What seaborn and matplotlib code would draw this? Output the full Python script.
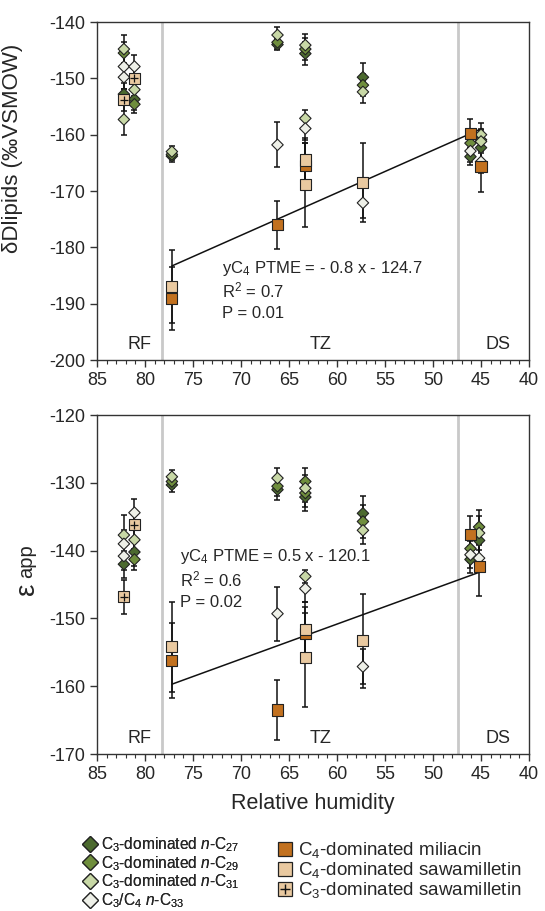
import numpy as np
import pandas as pd
import matplotlib
matplotlib.use("Agg")
import matplotlib.pyplot as plt
from matplotlib.lines import Line2D
from matplotlib.ticker import MultipleLocator
import seaborn as sns

# site relative humidity (x positions)
# --- delta D lipids (top panel) ---
c27_dd_x = [82.2, 81.1, 77.2, 66.2, 63.3, 57.3, 46.1, 45.0]
c27_dd = [-152.8, -153.7, -163.8, -144.0, -145.6, -149.8, -163.9, -162.3]
c27_dd_err = [2.0, 2.0, 1.0, 1.0, 2.0, 2.5, 1.5, 2.0]

c29_dd_x = [82.2, 81.1, 77.2, 66.2, 63.3, 57.3, 46.1, 45.0]
c29_dd = [-145.5, -154.6, -163.5, -143.6, -144.8, -151.2, -161.5, -160.9]
c29_dd_err = [2.0, 1.5, 1.0, 1.2, 2.0, 2.0, 2.0, 2.0]

c31_dd_x = [82.2, 82.2, 81.1, 77.2, 66.2, 63.3, 63.3, 57.3, 45.0, 45.0]
c31_dd = [-144.8, -157.3, -152.0, -163.0, -142.3, -144.1, -157.1, -152.4, -160.0, -161.2]
c31_dd_err = [2.5, 2.8, 2.0, 1.0, 1.5, 2.0, 1.5, 2.0, 2.0, 2.0]

c33_dd_x = [82.2, 82.2, 81.1, 66.2, 63.3, 57.3, 46.1, 45.0]
c33_dd = [-147.9, -149.8, -147.9, -161.8, -158.9, -172.1, -162.9, -164.8]
c33_dd_err = [2.0, 2.0, 2.0, 4.0, 2.0, 2.7, 2.0, 2.0]

mil_dd_x = [77.2, 66.2, 63.3, 46.1, 45.0]
mil_dd = [-189.0, -176.0, -165.4, -159.8, -165.7]
mil_dd_err = [5.6, 4.3, 4.0, 2.5, 4.5]

saw4_dd_x = [77.2, 63.3, 63.3, 57.3]
saw4_dd = [-187.0, -164.5, -168.9, -168.5]
saw4_dd_err = [6.5, 4.0, 7.4, 7.0]

saw3_dd_x = [82.2, 81.1]
saw3_dd = [-153.8, -150.0]
saw3_dd_err = [2.0, 2.0]

# --- epsilon app (bottom panel) ---
c27_ep_x = [82.2, 81.1, 77.2, 66.2, 63.3, 57.3, 46.1, 45.2]
c27_ep = [-142.0, -140.2, -130.3, -131.0, -132.1, -134.5, -141.3, -138.5]
c27_ep_err = [2.0, 2.0, 1.0, 1.5, 2.0, 2.5, 2.0, 2.5]

c29_ep_x = [81.1, 77.2, 66.2, 63.3, 63.3, 57.3, 46.1, 45.2]
c29_ep = [-141.3, -129.8, -130.5, -129.8, -131.5, -135.7, -139.7, -136.5]
c29_ep_err = [1.5, 1.0, 1.5, 2.0, 2.0, 2.5, 2.0, 2.5]

c31_ep_x = [82.2, 81.1, 77.2, 66.2, 63.3, 63.3, 57.3, 45.2]
c31_ep = [-137.7, -138.4, -129.1, -129.3, -130.8, -143.8, -137.0, -137.4]
c31_ep_err = [3.0, 2.0, 1.0, 1.5, 2.0, 1.0, 2.0, 2.5]

c33_ep_x = [82.2, 82.2, 81.1, 66.2, 63.3, 57.3, 46.1, 45.2]
c33_ep = [-139.0, -140.8, -134.4, -149.3, -145.6, -157.1, -140.6, -141.1]
c33_ep_err = [2.0, 2.0, 2.0, 4.0, 2.0, 2.6, 2.0, 2.0]

mil_ep_x = [77.2, 66.2, 63.3, 46.1, 45.2]
mil_ep = [-156.2, -163.5, -152.2, -137.6, -142.3]
mil_ep_err = [5.6, 4.4, 3.0, 2.7, 4.4]

saw4_ep_x = [77.2, 63.3, 63.3, 57.3]
saw4_ep = [-154.2, -151.6, -155.7, -153.3]
saw4_ep_err = [6.6, 4.0, 7.4, 6.9]

saw3_ep_x = [82.2, 81.1]
saw3_ep = [-146.8, -136.2]
saw3_ep_err = [2.5, 2.0]

# regression lines (yC4 PTME), end points as drawn
reg_dd_x = [77.2, 44.9]
reg_dd_y = [-183.3, -158.9]
reg_ep_x = [77.2, 45.2]
reg_ep_y = [-159.7, -143.2]

# zone boundaries and labels
zone_bounds = [78.2, 47.4]
zone_labels = ["RF", "TZ", "DS"]
zone_label_x = [80.6, 61.7, 43.2]

series_names = ["C27", "C29", "C31", "C33", "mil", "saw4", "saw3"]
series_labels = [
    r"C$_3$-dominated $n$-C$_{27}$",
    r"C$_3$-dominated $n$-C$_{29}$",
    r"C$_3$-dominated $n$-C$_{31}$",
    r"C$_3$/C$_4$ $n$-C$_{33}$",
    r"C$_4$-dominated miliacin",
    r"C$_4$-dominated sawamilletin",
    r"C$_3$-dominated sawamilletin",
]
colors = ["#4c6a2f", "#6f8e3d", "#c8d8a6", "#eef0e8", "#c2711f", "#e9c9a0", "#e9c9a0"]
markers = ["D", "D", "D", "D", "s", "s", "s"]
sizes = [34, 34, 34, 34, 64, 64, 64]

panel_dd = {
    "C27": (c27_dd_x, c27_dd, c27_dd_err),
    "C29": (c29_dd_x, c29_dd, c29_dd_err),
    "C31": (c31_dd_x, c31_dd, c31_dd_err),
    "C33": (c33_dd_x, c33_dd, c33_dd_err),
    "mil": (mil_dd_x, mil_dd, mil_dd_err),
    "saw4": (saw4_dd_x, saw4_dd, saw4_dd_err),
    "saw3": (saw3_dd_x, saw3_dd, saw3_dd_err),
}
panel_ep = {
    "C27": (c27_ep_x, c27_ep, c27_ep_err),
    "C29": (c29_ep_x, c29_ep, c29_ep_err),
    "C31": (c31_ep_x, c31_ep, c31_ep_err),
    "C33": (c33_ep_x, c33_ep, c33_ep_err),
    "mil": (mil_ep_x, mil_ep, mil_ep_err),
    "saw4": (saw4_ep_x, saw4_ep, saw4_ep_err),
    "saw3": (saw3_ep_x, saw3_ep, saw3_ep_err),
}


def to_frame(panel):
    rows = []
    for name, (xs, ys, es) in panel.items():
        for x, y, e in zip(xs, ys, es):
            rows.append({"series": name, "rh": x, "val": y, "err": e})
    return pd.DataFrame(rows)


sns.set_style("ticks")
plt.rcParams["font.family"] = ["Liberation Sans", "DejaVu Sans"]
plt.rcParams["mathtext.fontset"] = "custom"
plt.rcParams["mathtext.rm"] = "Liberation Sans"
plt.rcParams["mathtext.it"] = "Liberation Sans:italic"
plt.rcParams["mathtext.bf"] = "Liberation Sans:bold"
plt.rcParams["axes.unicode_minus"] = False

fig = plt.figure(figsize=(5.45, 9.11), dpi=100)
ax1 = fig.add_axes([0.178, 0.6048, 0.7927, 0.371])
ax2 = fig.add_axes([0.178, 0.1723, 0.7927, 0.3721])

palette = dict(zip(series_names, colors))
marker_map = dict(zip(series_names, markers))
size_map = dict(zip(series_names, sizes))


def draw_panel(ax, panel, reg_x, reg_y, ylim, label_y):
    df = to_frame(panel)
    for b in zone_bounds:
        ax.axvline(b, color="#c9c9c9", lw=2, zorder=1)
    ax.errorbar(df["rh"], df["val"], yerr=df["err"], fmt="none",
                ecolor="#111111", elinewidth=1.1, capsize=2.5, capthick=1.1, zorder=2)
    ax.plot(reg_x, reg_y, color="#111111", lw=1.1, zorder=3)
    sns.scatterplot(data=df, x="rh", y="val", hue="series", style="series",
                    size="series", palette=palette, markers=marker_map,
                    sizes=size_map, hue_order=series_names,
                    edgecolor="#222222", linewidth=0.8, legend=False, ax=ax, zorder=4)
    plus = df[df["series"] == "saw3"]
    ax.scatter(plus["rh"], plus["val"], marker="+", s=30, color="#111111",
               linewidths=0.9, zorder=5)
    for lab, lx in zip(zone_labels, zone_label_x):
        ax.text(lx, label_y, lab, ha="center", va="bottom", fontsize=13)
    ax.set_xlim(85, 40)
    ax.set_ylim(*ylim)
    ax.xaxis.set_major_locator(MultipleLocator(5))
    ax.xaxis.set_minor_locator(MultipleLocator(1))
    ax.yaxis.set_major_locator(MultipleLocator(10))
    ax.tick_params(axis="both", which="major", labelsize=13, direction="out",
                   length=5, width=1, color="#333333")
    ax.tick_params(axis="x", which="minor", direction="out", length=3, width=0.8,
                   color="#333333")
    for sp in ax.spines.values():
        sp.set_visible(True)
        sp.set_color("#333333")
        sp.set_linewidth(1)
    ax.set_xlabel("")
    ax.set_ylabel("")


draw_panel(ax1, panel_dd, reg_dd_x, reg_dd_y, (-200, -140), -198.8)
draw_panel(ax2, panel_ep, reg_ep_x, reg_ep_y, (-170, -120), -169.0)

ax1.text(72.0, -183.7, r"yC$_4$ PTME = - 0.8 x - 124.7", fontsize=12, va="center")
ax1.text(72.0, -187.7, r"R$^2$ = 0.7", fontsize=12, va="center")
ax1.text(72.0, -191.8, "P = 0.01", fontsize=12, va="center")

ax2.text(76.4, -140.9, r"yC$_4$ PTME = 0.5 x - 120.1", fontsize=12, va="center")
ax2.text(76.4, -144.3, r"R$^2$ = 0.6", fontsize=12, va="center")
ax2.text(76.4, -147.6, "P = 0.02", fontsize=12, va="center")

ax1.set_ylabel("δDlipids (‰VSMOW)", fontsize=16)
ax1.yaxis.set_label_coords(-0.172, 0.627)
ax2.set_xlabel("Relative humidity", fontsize=15.5, labelpad=7)
ax2.text(-0.161, 0.488, "ε", transform=ax2.transAxes, rotation=90,
         fontsize=20, ha="center", va="center")
ax2.text(-0.163, 0.568, "app", transform=ax2.transAxes, rotation=90,
         fontsize=14.5, ha="center", va="center")

# legends
handles = []
for name, lab, c, m in zip(series_names, series_labels, colors, markers):
    handles.append(Line2D([], [], linestyle="none", marker=m, markersize=9.5 if m == "s" else 8,
                          markerfacecolor=c, markeredgecolor="#222222",
                          markeredgewidth=0.9, label=lab))
plus_handle = Line2D([], [], linestyle="none", marker="+", markersize=7,
                     color="#111111", markeredgewidth=1.0)

leg1 = fig.legend(handles=handles[:4], loc="upper left", bbox_to_anchor=(0.136, 0.09),
                  frameon=False, fontsize=11.2, handletextpad=0.1, labelspacing=0.0,
                  borderaxespad=0, handlelength=1.2)
leg2 = fig.legend(handles=[handles[4], handles[5], (handles[6], plus_handle)],
                  labels=series_labels[4:], loc="upper left",
                  bbox_to_anchor=(0.492, 0.086), frameon=False, fontsize=13.5,
                  handletextpad=0.2, labelspacing=0.0, borderaxespad=0, handlelength=1.0)
fig.add_artist(leg1)

fig.savefig("out.png", dpi=100)
